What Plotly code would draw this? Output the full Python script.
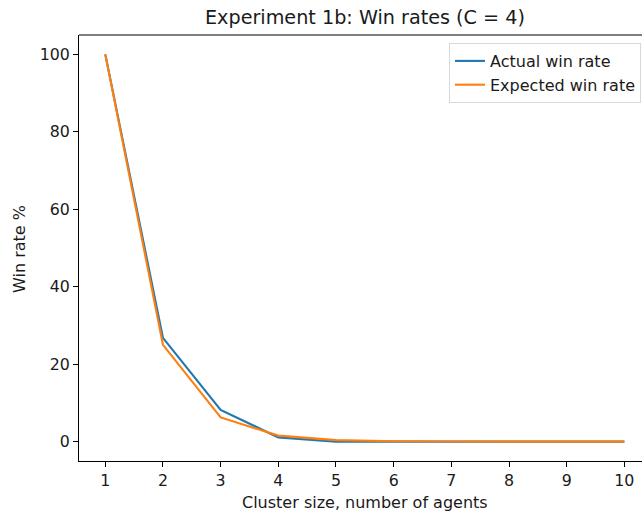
import plotly.graph_objects as go

# Cluster sizes and win rates (%)
cluster_sizes = [1, 2, 3, 4, 5, 6, 7, 8, 9, 10]
actual_win_rate = [100, 26.8, 8.2, 1.1, 0.0, 0.0, 0.0, 0.0, 0.0, 0.0]
expected_win_rate = [100, 25.0, 6.25, 1.56, 0.39, 0.1, 0.02, 0.01, 0.0, 0.0]
x_ticks = [1, 2, 3, 4, 5, 6, 7, 8, 9, 10]
y_ticks = [0, 20, 40, 60, 80, 100]

FONT = "DejaVu Sans"
W, H = 642, 512
L, R, T, B = 79, 0, 35, 51

fig = go.Figure()
fig.add_trace(go.Scatter(x=cluster_sizes, y=actual_win_rate, mode="lines",
                         name="Actual win rate",
                         line=dict(color="#1f77b4", width=2.1)))
fig.add_trace(go.Scatter(x=cluster_sizes, y=expected_win_rate, mode="lines",
                         name="Expected win rate",
                         line=dict(color="#ff7f0e", width=2.1)))

axis_common = dict(
    showgrid=False, zeroline=False, showline=True, linecolor="black",
    linewidth=1.1, ticks="outside", ticklen=5, tickwidth=1.1,
    tickcolor="black", tickfont=dict(family=FONT, size=15.8, color="#1a1a1a"),
)
fig.update_xaxes(range=[0.544, 10.306], tickvals=x_ticks, mirror=False,
                 **axis_common)
fig.update_yaxes(range=[-5, 105], tickvals=y_ticks, **axis_common)

# top spine
fig.add_shape(type="line", xref="paper", yref="paper", x0=0, x1=1, y0=1, y1=1,
              line=dict(color="black", width=1.1))

plot_w = W - L - R
plot_h = H - T - B
cx = (365 - L) / plot_w
fig.add_annotation(text="Experiment 1b: Win rates (C = 4)", xref="paper",
                   yref="paper", x=cx, y=1 + (T - 17) / plot_h,
                   xanchor="center", yanchor="middle", showarrow=False,
                   font=dict(family=FONT, size=19.2, color="#1a1a1a"))
fig.add_annotation(text="Cluster size, number of agents", xref="paper",
                   yref="paper", x=cx, y=-(502 - (H - B)) / plot_h,
                   xanchor="center", yanchor="middle", showarrow=False,
                   font=dict(family=FONT, size=16, color="#1a1a1a"))
fig.add_annotation(text="Win rate %", xref="paper", yref="paper",
                   x=-(L - 20) / plot_w, y=(H - B - 249) / plot_h,
                   textangle=-90,
                   xanchor="center", yanchor="middle", showarrow=False,
                   font=dict(family=FONT, size=16, color="#1a1a1a"))

fig.update_layout(
    width=W, height=H, margin=dict(l=L, r=R, t=T, b=B),
    paper_bgcolor="white", plot_bgcolor="white",
    legend=dict(x=(641 - L) / plot_w, y=1 - (43 - T) / plot_h,
                xanchor="right", yanchor="top", bgcolor="white",
                bordercolor="#d9d9d9", borderwidth=1,
                font=dict(family=FONT, size=16, color="#1a1a1a"),
                itemwidth=30, tracegroupgap=0),
    showlegend=True,
)

fig.write_html("out.html")
